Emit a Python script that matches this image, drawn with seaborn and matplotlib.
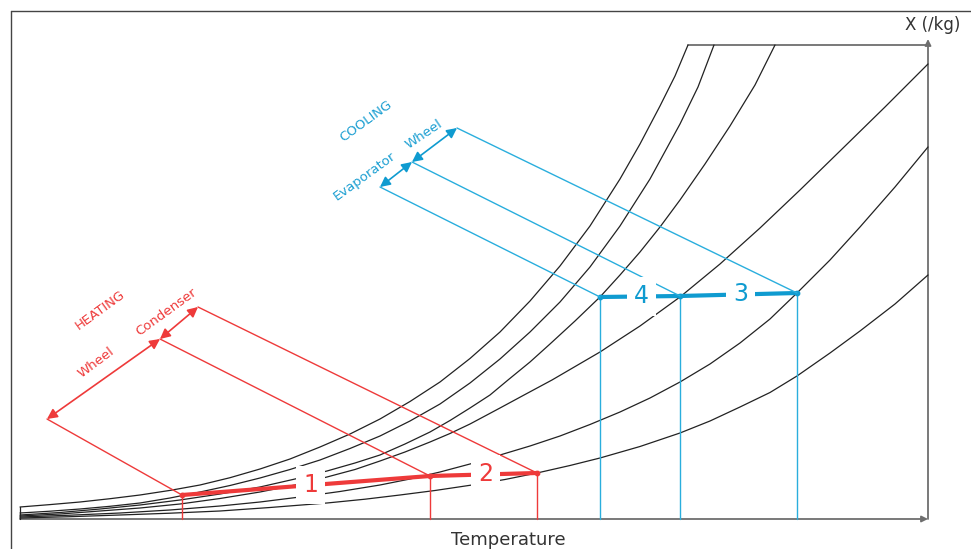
import numpy as np
import pandas as pd
import seaborn as sns
import matplotlib
matplotlib.use('Agg')
import matplotlib.pyplot as plt
from matplotlib.lines import Line2D

# humidity curves (T, X), in drawing units from the origin
curve1_t = [0, 30, 60, 90, 120, 150, 180, 210, 240, 270, 300, 330, 360, 390, 420, 450,
            480, 510, 540, 570, 600, 620, 640, 655, 668]
curve1_x = [12, 14.4, 17, 20.3, 24, 28.6, 34, 41.3, 50, 60, 72, 85, 100, 117.5, 137, 160.5,
            187, 218, 253, 293, 340, 375, 413, 443, 474]
curve2_t = [0, 30, 60, 90, 120, 150, 180, 210, 240, 270, 300, 330, 360, 390, 420, 450,
            480, 510, 540, 570, 600, 630, 660, 678, 694]
curve2_x = [6, 7.8, 10, 12.7, 16, 21, 27, 33.5, 41, 49.5, 59, 70.5, 83, 98, 115, 136,
            160, 187, 217, 252, 293, 340, 395, 432, 474]
curve3_t = [0, 40, 80, 120, 160, 200, 240, 275, 307, 335, 360, 385, 410, 430, 450, 470,
            488, 510, 530, 555, 580, 600, 620, 640, 660, 685, 710, 735, 755]
curve3_x = [4, 6.5, 10, 14, 19, 25, 32, 40, 48, 56, 64, 75, 87, 98.5, 111, 124,
            139, 157, 175, 198, 222, 244, 267, 292, 319, 355, 393, 434, 474]
curve4_t = [0, 40, 80, 120, 160, 200, 240, 275, 307, 335, 360, 385, 410, 430, 450, 480,
            505, 532, 580, 620, 660, 700, 740, 780, 820, 865, 908]
curve4_x = [3, 5, 8, 11, 15, 20.5, 27, 34, 42, 49.5, 58, 67, 77, 85.5, 95, 111,
            124.5, 139, 167, 193, 222, 255, 291, 329, 368, 412, 455]
curve5_t = [0, 50, 100, 150, 200, 240, 280, 320, 360, 390, 420, 450, 480, 510, 540, 570,
            600, 630, 660, 690, 720, 750, 777, 810, 840, 875, 908]
curve5_x = [2, 3.8, 6, 9, 13, 17, 22, 27.5, 34, 40, 47, 55, 64, 73, 83, 94.5,
            107, 121, 137, 155, 176, 200, 226, 259, 292, 332, 372]
curve6_t = [0, 50, 100, 150, 200, 250, 307, 345, 380, 415, 452, 485, 517, 550, 580, 620,
            660, 690, 720, 750, 777, 810, 840, 875, 908]
curve6_x = [1, 2.3, 4, 5.8, 8, 11.5, 16, 19.8, 24, 28.5, 34, 39.5, 46, 53.5, 61, 72.5,
            86, 98, 112, 126.5, 143, 166, 188, 215, 244]

# process points
heat_t = [162, 410, 517]
heat_x = [24, 43, 46]
cool_t = [580, 660, 777]
cool_x = [222, 223, 226]
heat_labels = ['1', '2']
cool_labels = ['4', '3']

# dimension arrows (projected states)
heat_dim_t = [27, 140, 178]
heat_dim_x = [100, 180, 212]
cool_dim_t = [360, 392, 437]
cool_dim_x = [332, 357, 391]

t_max, x_max = 908, 474

red = '#ee3a3a'
blue = '#1c9fd2'

sns.set_theme(style='white')
plt.rcParams['font.family'] = ['DejaVu Sans']

fig = plt.figure(figsize=(9.71, 5.49), dpi=100)
ax = fig.add_axes([0, 0, 1, 1])
ax.set_xlim(-20, 951)
ax.set_ylim(-30, 519)
ax.axis('off')

curves = [(curve1_t, curve1_x), (curve2_t, curve2_x), (curve3_t, curve3_x),
          (curve4_t, curve4_x), (curve5_t, curve5_x), (curve6_t, curve6_x)]
df = pd.concat([pd.DataFrame({'T': t, 'X': x, 'curve': i}) for i, (t, x) in enumerate(curves)])
sns.lineplot(data=df, x='T', y='X', units='curve', estimator=None, sort=False,
             color='#222222', lw=0.9, ax=ax, zorder=2)

# axes of the chart
ax.annotate('', xy=(t_max, 0), xytext=(0, 0),
            arrowprops=dict(arrowstyle='-|>', color='#6e6e6e', lw=1.3, mutation_scale=9,
                            shrinkA=0, shrinkB=0), zorder=1)
ax.annotate('', xy=(t_max, x_max + 6), xytext=(t_max, 0),
            arrowprops=dict(arrowstyle='-|>', color='#6e6e6e', lw=1.3, mutation_scale=9,
                            shrinkA=0, shrinkB=0), zorder=1)
ax.plot([curve1_t[-1], t_max], [x_max, x_max], color='#6e6e6e', lw=1.3, zorder=1)
ax.plot([0, 0], [0, curve1_x[0]], color='#222222', lw=0.9, zorder=2)


def draw_process(ts, xs, dim_t, dim_x, labels, color, thin_color):
    for t, x in zip(ts, xs):
        ax.plot([t, t], [0, x], color=thin_color, lw=1.0, zorder=3)
    ax.plot(ts, xs, color=color, lw=3.0, solid_capstyle='butt', zorder=3)
    ax.scatter(ts, xs, color=color, s=10, zorder=3)
    for t, x, dt, dx in zip(ts, xs, dim_t, dim_x):
        ax.plot([dt, t], [dx, x], color=thin_color, lw=1.0, zorder=3)
    for i in range(len(dim_t) - 1):
        ax.annotate('', xy=(dim_t[i + 1], dim_x[i + 1]), xytext=(dim_t[i], dim_x[i]),
                    arrowprops=dict(arrowstyle='<|-|>', color=color, lw=1.2, mutation_scale=15,
                                    shrinkA=0, shrinkB=0), zorder=3)
    for i, lab in enumerate(labels):
        mt = ts[i] + 0.52 * (ts[i + 1] - ts[i])
        mx = xs[i] + 0.52 * (xs[i + 1] - xs[i])
        ax.text(mt, mx, lab, color=color, fontsize=17, ha='center', va='center', zorder=5,
                bbox=dict(boxstyle='square,pad=0.3', facecolor='white', edgecolor='none'))


draw_process(heat_t, heat_x, heat_dim_t, heat_dim_x, heat_labels, red, red)
draw_process(cool_t, cool_x, cool_dim_t, cool_dim_x, cool_labels, '#0f9bd0', '#2aaedd')

txt = dict(fontsize=9.5, ha='center', va='center', rotation_mode='anchor')
ax.text(80, 209, 'HEATING', color=red, rotation=36, **txt)
ax.text(76, 156, 'Wheel', color=red, rotation=37, **txt)
ax.text(146, 207, 'Condenser', color=red, rotation=36, **txt)
ax.text(346, 398, 'COOLING', color=blue, rotation=36, **txt)
ax.text(404, 385, 'Wheel', color=blue, rotation=34, **txt)
ax.text(345, 343, 'Evaporator', color=blue, rotation=36, **txt)

ax.text(488, -21, 'Temperature', fontsize=13, color='#333333', ha='center', va='center')
ax.text(913, 494, 'X (/kg)', fontsize=12, color='#333333', ha='center', va='center')

# outer frame
fig.add_artist(Line2D([10.5 / 971, 10.5 / 971], [0, 1 - 10.5 / 549], color='#444444', lw=1.0))
fig.add_artist(Line2D([10.5 / 971, 1], [1 - 10.5 / 549, 1 - 10.5 / 549], color='#444444', lw=1.0))

fig.savefig('out.png', dpi=100)
